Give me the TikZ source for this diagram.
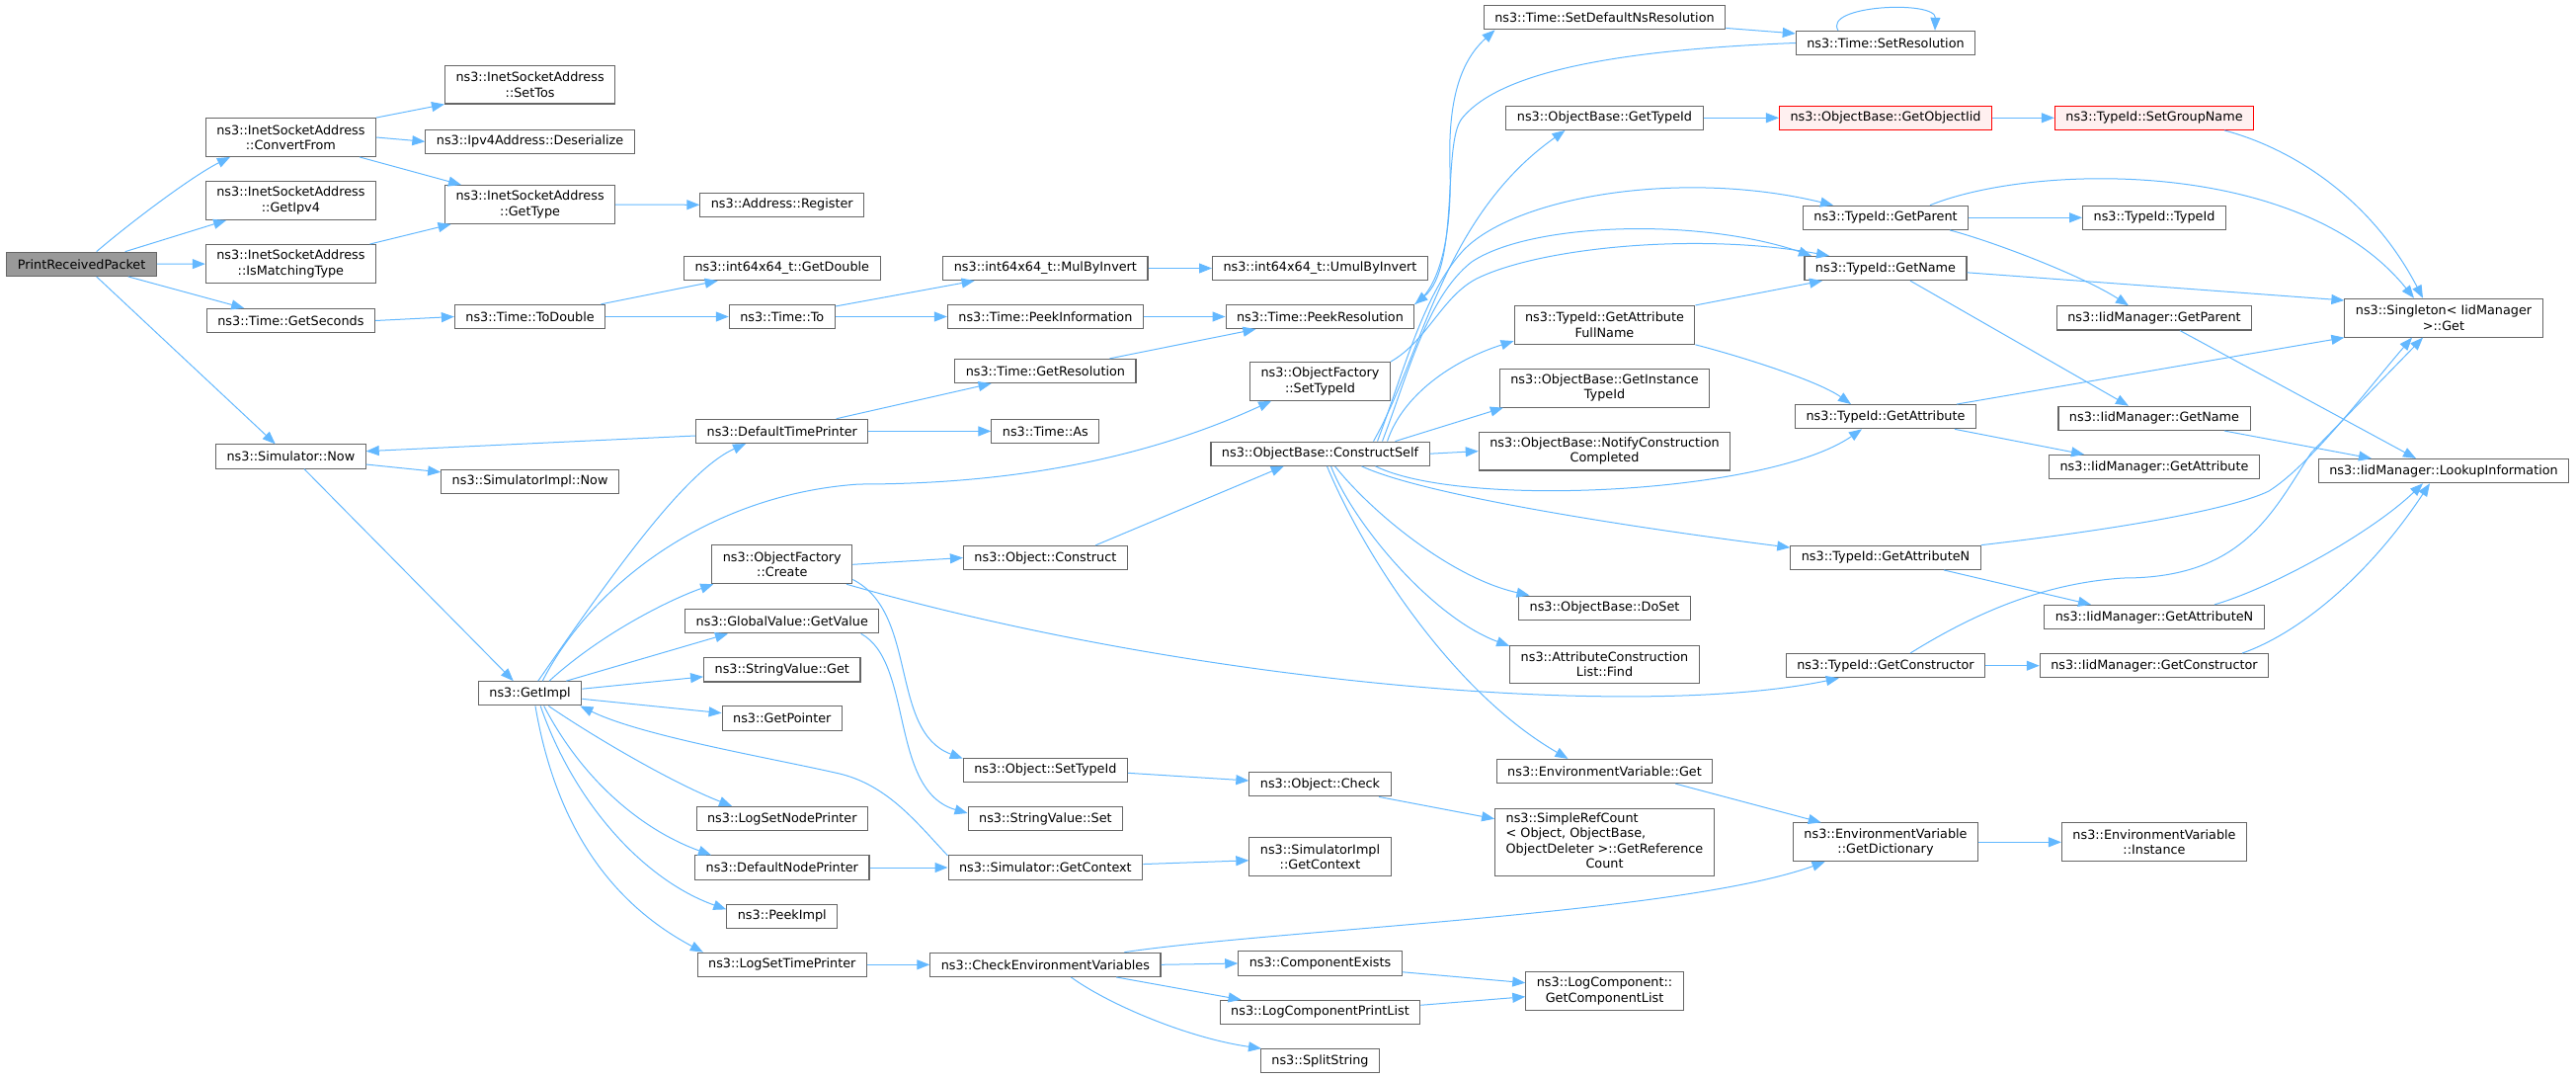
\documentclass[tikz,border=0pt]{standalone}
\usepackage{fontspec}
\setmainfont{DejaVu Sans}
\usepackage{xcolor}
\usepackage{tikz}
\usetikzlibrary{arrows.meta}
\definecolor{edgeblue}{HTML}{63B8FF}
\definecolor{boxgray}{HTML}{666666}
\definecolor{rootgray}{HTML}{999999}
\definecolor{hotfill}{HTML}{FFF0F0}
\newcommand{\callfont}{\fontsize{12.8}{15.4}\selectfont}
\tikzset{
  fn/.style={draw=boxgray, fill=white, line width=1.1pt, inner xsep=11pt, inner ysep=3pt,
    minimum height=24.2pt, align=center, font=\callfont},
  two/.style={minimum height=38.8pt},
  root/.style={fn, fill=rootgray},
  hot/.style={fn, draw=red, fill=hotfill},
  call/.style={draw=edgeblue, line width=1pt, -{Triangle[length=13pt,width=10pt]}}
}

\begin{document}
\begin{tikzpicture}[x=1pt, y=-1pt]
      \useasboundingbox (0,0) rectangle (2608,1092);
      % first columns
      \node[root] (prp) at (82.6,267.3) {PrintReceivedPacket};
      \node[fn,two] (cf) at (294.4,139) {ns3::InetSocketAddress\\::ConvertFrom};
      \node[fn,two] (ipv4) at (294.4,203) {ns3::InetSocketAddress\\::GetIpv4};
      \node[fn,two] (ismt) at (294.4,267) {ns3::InetSocketAddress\\::IsMatchingType};
      \node[fn] (gsec) at (294.4,324.5) {ns3::Time::GetSeconds};
      \node[fn] (now) at (294.4,462) {ns3::Simulator::Now};
      \node[fn,two] (settos) at (536.6,85.6) {ns3::InetSocketAddress\\::SetTos};
      \node[fn] (deser) at (536.6,143.3) {ns3::Ipv4Address::Deserialize};
      \node[fn,two] (gtype) at (536.6,207) {ns3::InetSocketAddress\\::GetType};
      \node[fn] (todbl) at (536.6,320.5) {ns3::Time::ToDouble};
      \node[fn] (simnow) at (536.6,487.3) {ns3::SimulatorImpl::Now};
      \node[fn] (getimpl) at (536.6,701.8) {ns3::GetImpl};
      % GetImpl callees
      \node[fn] (reg) at (791.8,207.3) {ns3::Address::Register};
      \node[fn] (gdbl) at (791.8,271.5) {ns3::int64x64\_t::GetDouble};
      \node[fn] (tto) at (791.8,320.5) {ns3::Time::To};
      \node[fn] (dtp) at (791.8,436.4) {ns3::DefaultTimePrinter};
      \node[fn,two] (ofcreate) at (791.8,571.3) {ns3::ObjectFactory\\::Create};
      \node[fn] (gv) at (791.8,628.7) {ns3::GlobalValue::GetValue};
      \node[fn] (svget) at (791.8,677.9) {ns3::StringValue::Get};
      \node[fn] (gptr) at (791.8,727) {ns3::GetPointer};
      \node[fn] (lsnp) at (791.8,828.5) {ns3::LogSetNodePrinter};
      \node[fn] (dnp) at (791.8,878) {ns3::DefaultNodePrinter};
      \node[fn] (peekimpl) at (791.8,927.3) {ns3::PeekImpl};
      \node[fn] (lstp) at (791.8,976.3) {ns3::LogSetTimePrinter};
      \node[fn] (mbi) at (1058.4,271.5) {ns3::int64x64\_t::MulByInvert};
      \node[fn] (peekinfo) at (1058.4,320.5) {ns3::Time::PeekInformation};
      \node[fn] (getres) at (1058.4,375.5) {ns3::Time::GetResolution};
      \node[fn] (tas) at (1058.4,436.4) {ns3::Time::As};
      \node[fn] (construct) at (1058.4,564.5) {ns3::Object::Construct};
      \node[fn] (osettid) at (1058.4,779.4) {ns3::Object::SetTypeId};
      \node[fn] (svset) at (1058.4,828.5) {ns3::StringValue::Set};
      \node[fn] (getctx) at (1058.4,878) {ns3::Simulator::GetContext};
      \node[fn] (cev) at (1058.4,976.3) {ns3::CheckEnvironmentVariables};
      % object base
      \node[fn] (umul) at (1336.5,271.5) {ns3::int64x64\_t::UmulByInvert};
      \node[fn] (peekres) at (1336.5,320.5) {ns3::Time::PeekResolution};
      \node[fn,two] (ofsettid) at (1336.5,385.9) {ns3::ObjectFactory\\::SetTypeId};
      \node[fn] (cs) at (1336.5,459.2) {ns3::ObjectBase::ConstructSelf};
      \node[fn] (ocheck) at (1336.5,793.8) {ns3::Object::Check};
      \node[fn,two] (simctx) at (1336.5,867) {ns3::SimulatorImpl\\::GetContext};
      \node[fn] (cexists) at (1336.5,975) {ns3::ComponentExists};
      \node[fn] (lcpl) at (1336.5,1024.4) {ns3::LogComponentPrintList};
      \node[fn] (split) at (1336.5,1073.8) {ns3::SplitString};
      \node[fn] (setdef) at (1624.5,17.7) {ns3::Time::SetDefaultNsResolution};
      \node[fn] (gettid) at (1624.5,119.3) {ns3::ObjectBase::GetTypeId};
      \node[fn,two] (gafn) at (1624.5,328.9) {ns3::TypeId::GetAttribute\\FullName};
      \node[fn,two] (git) at (1624.5,392.7) {ns3::ObjectBase::GetInstance\\TypeId};
      \node[fn,two] (ncc) at (1624.5,456.6) {ns3::ObjectBase::NotifyConstruction\\Completed};
      \node[fn] (doset) at (1624.5,615.2) {ns3::ObjectBase::DoSet};
      \node[fn,two] (find) at (1624.5,672.5) {ns3::AttributeConstruction\\List::Find};
      \node[fn] (envget) at (1624.5,780.5) {ns3::EnvironmentVariable::Get};
      \node[fn] (src) at (1624.5,852.4) {\begin{tabular}{@{}l@{}}ns3::SimpleRefCount\\< Object, ObjectBase,\\ ObjectDeleter >::GetReference\\\multicolumn{1}{@{}c@{}}{Count}\end{tabular}};
      \node[fn,two] (gcl) at (1624.5,1003.1) {ns3::LogComponent::\\GetComponentList};
      % type id
      \node[fn] (setres) at (1909,43.5) {ns3::Time::SetResolution};
      \node[hot] (goiid) at (1909,119.3) {ns3::ObjectBase::GetObjectIid};
      \node[fn] (gparent) at (1909,220.3) {ns3::TypeId::GetParent};
      \node[fn] (gname) at (1909,271.5) {ns3::TypeId::GetName};
      \node[fn] (gattr) at (1909,421.7) {ns3::TypeId::GetAttribute};
      \node[fn] (gattrn) at (1909,564.3) {ns3::TypeId::GetAttributeN};
      \node[fn] (gctor) at (1909,673.7) {ns3::TypeId::GetConstructor};
      \node[fn,two] (gdict) at (1909,852.3) {ns3::EnvironmentVariable\\::GetDictionary};
      \node[hot] (sgn) at (2181,119.3) {ns3::TypeId::SetGroupName};
      \node[fn] (tidtid) at (2181,220.3) {ns3::TypeId::TypeId};
      \node[fn] (igparent) at (2181,321.9) {ns3::IidManager::GetParent};
      \node[fn] (igname) at (2181,423.4) {ns3::IidManager::GetName};
      \node[fn] (igattr) at (2181,472.5) {ns3::IidManager::GetAttribute};
      \node[fn] (igattrn) at (2181,624.5) {ns3::IidManager::GetAttributeN};
      \node[fn] (igctor) at (2181,673.7) {ns3::IidManager::GetConstructor};
      \node[fn,two] (inst) at (2181,852.3) {ns3::EnvironmentVariable\\::Instance};
      \node[fn,two] (single) at (2474,321.7) {ns3::Singleton< IidManager\\>::Get};
      \node[fn] (lookup) at (2474,476.6) {ns3::IidManager::LookupInformation};

      % calls from PrintReceivedPacket
      \draw[call] (prp.40) .. controls (136,222) and (196,177.5) .. (cf.198);
      \draw[call] (prp.16) -- (ipv4.197);
      \draw[call] (prp) -- (ismt);
      \draw[call] (prp.-15) -- (gsec.165);
      \draw[call] (prp.-40) -- (now.141);
      \draw[call] (cf.north east) -- (settos.south west);
      \draw[call] (cf.east) -- (deser.west);
      \draw[call] (cf.-16) -- (gtype.164);
      \draw[call] (ismt.14) -- (gtype.194);
      \draw[call] (gtype.east) -- (reg.west);
      % time
      \draw[call] (gsec.east) -- (todbl.west);
      \draw[call] (todbl.10) -- (gdbl.191);
      \draw[call] (todbl.east) -- (tto.west);
      \draw[call] (tto.11) -- (mbi.190);
      \draw[call] (tto.east) -- (peekinfo.west);
      \draw[call] (mbi.east) -- (umul.west);
      \draw[call] (peekinfo.east) -- (peekres.west);
      \draw[call] (getres.11) -- (peekres.191);
      \draw[call] (dtp.13) -- (getres.193);
      \draw[call] (dtp.east) -- (tas.west);
      \draw[call] (dtp.183) -- (now.4);
      \draw[call] (now.-6) -- (simnow.174);
      \draw[call] (now.-43) -- (getimpl.143);
      % calls from GetImpl
      \draw[call] (getimpl.57) .. controls (613,591) and (692,477) .. (dtp.199);
      \draw[call] (getimpl.45) .. controls (600,590) and (720,500) .. (870,490)
                  .. controls (1050,490) and (1180,455) .. (ofsettid.202);
      \draw[call] (getimpl.33) .. controls (610,640) and (680,606) .. (ofcreate.196);
      \draw[call] (getimpl.19) -- (gv.193);
      \draw[call] (getimpl.5) -- (svget.185);
      \draw[call] (getimpl.-6) -- (gptr.175);
      \draw[call] (getimpl.-34) .. controls (600,745) and (680,792) .. (lsnp.166);
      \draw[call] (getimpl.-42) .. controls (590,790) and (650,840) .. (dnp.170);
      \draw[call] (getimpl.-50) .. controls (580,810) and (650,890) .. (peekimpl.173);
      \draw[call] (getimpl.-67) .. controls (565,850) and (630,920) .. (lstp.171);
      \draw[call] (getctx.173) .. controls (930,835) and (900,795) .. (850,783)
                  .. controls (780,767) and (650,745) .. (getimpl.-14);
      \draw[call] (dnp.east) -- (getctx.west);
      % object factory
      \draw[call] (ofcreate.east) -- (construct.west);
      \draw[call] (ofcreate.-12) .. controls (930,620) and (900,740) .. (osettid.172);
      \draw[call] (ofcreate.-17) .. controls (1200,690) and (1650,730) .. (gctor.195);
      \draw[call] (gv.-9) .. controls (925,670) and (900,800) .. (svset.176);
      \draw[call] (construct.14) -- (cs.199);
      \draw[call] (osettid.-2) -- (ocheck.177);
      \draw[call] (ocheck.-12) -- (src.168);
      \draw[call] (getctx.2) -- (simctx.183);
      % logging
      \draw[call] (lstp.east) -- (cev.west);
      \draw[call] (cev.east) -- (cexists.west);
      \draw[call] (cev.-10) -- (lcpl.171);
      \draw[call] (cev.-26) .. controls (1120,1015) and (1200,1050) .. (split.168);
      \draw[call] (cev.9) .. controls (1300,940) and (1700,925) .. (gdict.198);
      \draw[call] (cexists.-6) -- (gcl.174);
      \draw[call] (lcpl.4) -- (gcl.184);
      \draw[call] (envget.-10) -- (gdict.163);
      \draw[call] (gdict.east) -- (inst.west);
      % ConstructSelf
      \draw[call] (cs.east) -- (ncc.west);
      \draw[call] ([xshift=76pt]cs.north) -- (git.191);
      \draw[call] ([xshift=68pt]cs.north) .. controls (1420,400) and (1470,365) .. (gafn.190);
      \draw[call] ([xshift=54pt]cs.north) .. controls (1440,360) and (1460,220) .. ([xshift=-40pt]gettid.south);
      \draw[call] ([xshift=58pt]cs.north) .. controls (1420,380) and (1440,300) .. (1480,255)
                  .. controls (1530,200) and (1700,170) .. ([xshift=-53pt]gparent.north);
      \draw[call] ([xshift=63pt]cs.north) .. controls (1425,380) and (1445,300) .. (1490,265)
                  .. controls (1550,225) and (1720,220) .. ([xshift=-75pt]gname.north);
      \draw[call] (ofsettid.north east) .. controls (1445,345) and (1460,300) .. (1495,282)
                  .. controls (1560,250) and (1720,235) .. ([xshift=-57pt]gname.north);
      \draw[call] ([xshift=56pt]cs.south) .. controls (1480,515) and (1790,500) .. ([xshift=-24pt]gattr.south);
      \draw[call] ([xshift=42pt]cs.south) .. controls (1450,505) and (1700,540) .. (gattrn.174);
      \draw[call] ([xshift=15pt]cs.south) .. controls (1390,520) and (1470,585) .. ([xshift=-76pt]doset.north);
      \draw[call] ([xshift=11pt]cs.south) .. controls (1370,530) and (1450,625) .. (find.169);
      \draw[call] ([xshift=7pt]cs.south) .. controls (1380,560) and (1470,700) .. ([xshift=-37pt]envget.north);
      % resolution
      \draw[call] (peekres.north east) .. controls (1460,290) and (1470,230) .. (1468,170)
                  .. controls (1466,110) and (1475,65) .. ([xshift=-111pt]setdef.south);
      \draw[call] (setres.west) .. controls (1650,50) and (1520,70) .. (1480,120)
                  .. controls (1460,145) and (1478,270) .. (peekres.north east);
      \draw[call] (setdef.-5) -- (setres.174);
      \draw[call] ([xshift=-48pt]setres.north) .. controls (1845,5) and (1960,0) .. ([xshift=50pt]setres.north);
      % type id
      \draw[call] (gettid.east) -- (goiid.west);
      \draw[call] (goiid.east) -- (sgn.west);
      \draw[call] ([xshift=71pt]sgn.south) .. controls (2320,150) and (2400,200) .. ([xshift=-21pt]single.north);
      \draw[call] ([xshift=45pt]gparent.north) .. controls (2060,165) and (2330,160) .. ([xshift=-30pt]single.north);
      \draw[call] (gparent.east) -- (tidtid.west);
      \draw[call] ([xshift=65pt]gparent.south) .. controls (2020,245) and (2110,280) .. ([xshift=-26pt]igparent.north);
      \draw[call] (gname.-3) -- (single.170);
      \draw[call] ([xshift=25pt]gname.south) -- ([xshift=-26pt]igname.north);
      \draw[call] (gafn.north east) -- ([xshift=-64pt]gname.south);
      \draw[call] (gafn.south east) .. controls (1760,360) and (1840,385) .. ([xshift=-35pt]gattr.north);
      \draw[call] ([xshift=72pt]gattr.north) -- (single.south west);
      \draw[call] ([xshift=70pt]gattr.south) -- ([xshift=-71pt]igattr.north);
      \draw[call] ([xshift=26pt]igparent.south) -- ([xshift=-28pt]lookup.north);
      \draw[call] ([xshift=71pt]igname.south) -- ([xshift=-73pt]lookup.north);
      \draw[call] (gattrn.north east) .. controls (2150,535) and (2260,515) .. (2297,497)
                  .. controls (2340,470) and (2400,390) .. ([xshift=-32pt]single.south);
      \draw[call] ([xshift=25pt]gctor.north) .. controls (2000,620) and (2070,590) .. (2150,585)
                  .. controls (2270,585) and (2300,520) .. (2340,458) -- ([xshift=-21pt]single.south);
      \draw[call] ([xshift=59pt]gattrn.south) -- ([xshift=-64pt]igattrn.north);
      \draw[call] (gctor.east) -- (igctor.west);
      \draw[call] ([xshift=61pt]igattrn.north) .. controls (2300,595) and (2400,540) .. ([xshift=-21pt]lookup.south);
      \draw[call] ([xshift=89pt]igctor.north) .. controls (2330,640) and (2400,580) .. ([xshift=-14pt]lookup.south);
    \end{tikzpicture}
\end{document}
